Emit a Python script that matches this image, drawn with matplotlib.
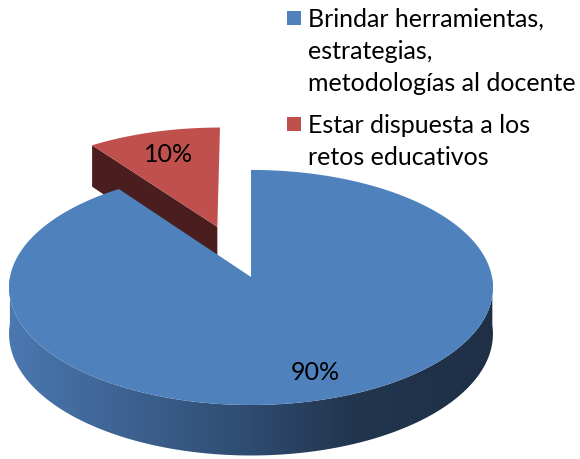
import numpy as np
import matplotlib.pyplot as plt
from matplotlib.patches import Polygon, Rectangle
from matplotlib.colors import LinearSegmentedColormap

labels = ['Brindar herramientas,\nestrategias,\nmetodologías al docente',
          'Estar dispuesta a los\nretos educativos']
values = [90, 10]
pct_labels = ['90%', '10%']
top_colors = ['#4f81bd', '#c0504d']
cut_colors = ['#2c4668', '#4a1e1e']
explode = [0.0, 0.47]
label_r = [0.8, 0.75]

# pie geometry in pixels (simple perspective)
cx, cy = 251, 277
a, b = 241, 116.6
k = 0.089
depth = 46


def proj(u, v, z=0.0):
    s = 1.0 / (1.0 + k * v)
    return cx + a * u * s, cy - b * v * s + z * s


fig = plt.figure(figsize=(5.8, 4.59), dpi=100)
ax = fig.add_axes([0, 0, 1, 1])
ax.set_xlim(0, 580)
ax.set_ylim(459, 0)
ax.axis('off')

wall_cmap = LinearSegmentedColormap.from_list(
    'wall', [(0, '#4a78b0'), (0.5, '#2f4b70'), (0.7, '#22364f'), (1, '#1e2f46')])

# slice angle ranges, starting at 12 o'clock and going clockwise
total = sum(values)
ranges = []
start = 90.0
for v in values:
    end = start - 360.0 * v / total
    ranges.append((end, start))
    start = end

for i in reversed(range(len(values))):
    t1, t2 = ranges[i]
    mid = np.radians((t1 + t2) / 2)
    ou, ov = explode[i] * np.cos(mid), explode[i] * np.sin(mid)
    th = np.radians(np.linspace(t1, t2, 300))
    au, av = ou + np.cos(th), ov + np.sin(th)

    # radial cut faces
    for phi, sgn in ((t1, -1), (t2, 1)):
        nrm = np.radians(phi + sgn * 90)
        if np.sin(nrm) < -1e-6:
            p = np.radians(phi)
            eu, ev = ou + np.cos(p), ov + np.sin(p)
            pts = [proj(ou, ov), proj(eu, ev), proj(eu, ev, depth), proj(ou, ov, depth)]
            ax.add_patch(Polygon(pts, closed=True, fc=cut_colors[i], ec='none'))

    # outer wall (front part only)
    front = np.sin(th) < 0
    if front.any():
        fu, fv = au[front], av[front]
        tx, ty = proj(fu, fv)
        bx, by = proj(fu, fv, depth)
        wall = Polygon(np.column_stack([np.r_[tx, bx[::-1]], np.r_[ty, by[::-1]]]),
                       closed=True, fc='none', ec='none')
        ax.add_patch(wall)
        grad = np.linspace(0, 1, 256).reshape(1, -1)
        x0, x1 = min(tx.min(), bx.min()), max(tx.max(), bx.max())
        im = ax.imshow(grad, cmap=wall_cmap, aspect='auto',
                       extent=[x0, x1, 459, 0], origin='upper')
        im.set_clip_path(wall)

    # top face
    px, py = proj(au, av)
    vx, vy = proj(ou, ov)
    ax.add_patch(Polygon(np.column_stack([np.r_[vx, px], np.r_[vy, py]]),
                         closed=True, fc=top_colors[i], ec='none'))

    lu = ou + label_r[i] * np.cos(mid)
    lv = ov + label_r[i] * np.sin(mid)
    lx, ly = proj(lu, lv)
    ax.text(lx, ly, pct_labels[i], ha='center', va='center',
            fontsize=18, family='Lato', color='black')

ax.set_xlim(0, 580)
ax.set_ylim(459, 0)

# legend
leg_y = [27, 133]
for i, lab in enumerate(labels):
    ax.add_patch(Rectangle((287, leg_y[i] - 16), 14, 14, fc=top_colors[i], ec='none'))
    for j, line in enumerate(lab.split('\n')):
        ax.text(308, leg_y[i] + 32 * j, line, ha='left', va='baseline',
                fontsize=18, family='Lato', color='black')

fig.savefig('out.png', dpi=100)
